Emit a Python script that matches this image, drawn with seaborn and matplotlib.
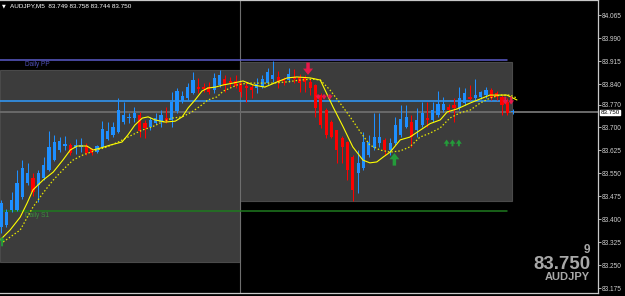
import matplotlib
matplotlib.use("Agg")
import matplotlib.pyplot as plt
import seaborn as sns
import pandas as pd
from matplotlib.patches import Rectangle
from matplotlib.transforms import blended_transform_factory

# ---------------- data ----------------
opens = [83.375, 83.381, 83.430, 83.430, 83.473, 83.518, 83.535, 83.512, 83.535, 83.561,
         83.593, 83.626, 83.639, 83.642, 83.632, 83.636, 83.639, 83.629, 83.619, 83.636,
         83.662, 83.675, 83.685, 83.717, 83.730, 83.730, 83.740, 83.714, 83.701, 83.714,
         83.717, 83.730, 83.724, 83.753, 83.786, 83.795, 83.812, 83.831, 83.831, 83.831,
         83.822, 83.838, 83.857, 83.851, 83.851, 83.844, 83.835, 83.831, 83.828, 83.831,
         83.844, 83.857, 83.864, 83.857, 83.854, 83.864, 83.864, 83.861, 83.848, 83.838,
         83.805, 83.756, 83.717, 83.691, 83.665, 83.652, 83.603, 83.551, 83.567, 83.610,
         83.632, 83.649, 83.659, 83.626, 83.649, 83.675, 83.701, 83.717, 83.691, 83.707,
         83.730, 83.724, 83.740, 83.756, 83.766, 83.773, 83.763, 83.779, 83.799, 83.795,
         83.799, 83.805, 83.822, 83.812, 83.799, 83.782, 83.749]
highs = [83.463, 83.434, 83.489, 83.561, 83.593, 83.584, 83.551, 83.561, 83.603, 83.688,
         83.675, 83.668, 83.672, 83.649, 83.662, 83.665, 83.649, 83.632, 83.642, 83.720,
         83.717, 83.717, 83.795, 83.782, 83.747, 83.766, 83.750, 83.724, 83.734, 83.747,
         83.756, 83.766, 83.815, 83.828, 83.818, 83.844, 83.880, 83.861, 83.844, 83.848,
         83.877, 83.887, 83.870, 83.864, 83.870, 83.848, 83.848, 83.841, 83.861, 83.870,
         83.893, 83.916, 83.883, 83.864, 83.893, 83.890, 83.874, 83.870, 83.861, 83.841,
         83.812, 83.763, 83.724, 83.691, 83.672, 83.655, 83.610, 83.626, 83.685, 83.675,
         83.747, 83.747, 83.665, 83.665, 83.734, 83.773, 83.773, 83.740, 83.763, 83.782,
         83.782, 83.782, 83.818, 83.799, 83.776, 83.795, 83.831, 83.828, 83.838, 83.857,
         83.818, 83.831, 83.828, 83.818, 83.805, 83.795, 83.758]
lows = [83.355, 83.375, 83.424, 83.427, 83.466, 83.512, 83.476, 83.456, 83.528, 83.557,
        83.590, 83.619, 83.626, 83.610, 83.613, 83.619, 83.610, 83.610, 83.616, 83.632,
        83.659, 83.668, 83.681, 83.711, 83.714, 83.717, 83.668, 83.665, 83.691, 83.711,
        83.701, 83.714, 83.701, 83.747, 83.779, 83.789, 83.809, 83.812, 83.815, 83.809,
        83.812, 83.831, 83.815, 83.831, 83.828, 83.799, 83.782, 83.795, 83.812, 83.828,
        83.838, 83.848, 83.828, 83.838, 83.848, 83.844, 83.815, 83.815, 83.805, 83.734,
        83.698, 83.665, 83.665, 83.584, 83.584, 83.528, 83.460, 83.486, 83.561, 83.603,
        83.626, 83.636, 83.610, 83.610, 83.642, 83.668, 83.698, 83.636, 83.668, 83.701,
        83.701, 83.717, 83.734, 83.750, 83.747, 83.717, 83.756, 83.773, 83.789, 83.789,
        83.792, 83.795, 83.789, 83.789, 83.740, 83.740, 83.744]
closes = [83.453, 83.424, 83.463, 83.518, 83.567, 83.551, 83.489, 83.551, 83.577, 83.636,
          83.652, 83.655, 83.646, 83.616, 83.642, 83.642, 83.616, 83.616, 83.639, 83.694,
          83.688, 83.701, 83.756, 83.740, 83.734, 83.747, 83.688, 83.698, 83.724, 83.730,
          83.740, 83.720, 83.782, 83.818, 83.802, 83.831, 83.854, 83.825, 83.825, 83.815,
          83.861, 83.870, 83.838, 83.844, 83.835, 83.815, 83.828, 83.822, 83.841, 83.857,
          83.880, 83.870, 83.848, 83.851, 83.874, 83.857, 83.844, 83.848, 83.828, 83.763,
          83.707, 83.675, 83.668, 83.626, 83.636, 83.561, 83.496, 83.584, 83.652, 83.652,
          83.668, 83.668, 83.626, 83.649, 83.707, 83.727, 83.734, 83.668, 83.724, 83.747,
          83.724, 83.756, 83.776, 83.776, 83.756, 83.763, 83.795, 83.812, 83.792, 83.805,
          83.815, 83.822, 83.795, 83.799, 83.773, 83.747, 83.750]

fast_idx = [-0.2, 1.7, 3.6, 4.9, 6.0, 7.9, 9.8, 11.6, 13.0, 14.3, 16.1, 17.3, 18.6, 20.5,
            22.7, 23.8, 25.1, 26.5, 27.6, 28.9, 30.8, 32.7, 34.0, 35.1, 36.4, 37.7, 38.8,
            40.2, 41.7, 43.5, 45.4, 47.3, 49.5, 51.8, 53.7, 55.5, 58.0, 59.9, 62.3, 64.2,
            66.0, 67.9, 69.2, 70.5, 71.7, 73.0, 74.9, 76.7, 80.5, 82.4, 83.7, 85.6, 88.0,
            91.7, 94.9, 96.8]
fast_val = [83.332, 83.365, 83.407, 83.453, 83.496, 83.528, 83.554, 83.593, 83.626, 83.639,
            83.639, 83.626, 83.632, 83.642, 83.652, 83.675, 83.707, 83.730, 83.734, 83.724,
            83.717, 83.720, 83.734, 83.763, 83.789, 83.818, 83.828, 83.831, 83.838, 83.844,
            83.851, 83.838, 83.831, 83.848, 83.861, 83.864, 83.861, 83.854, 83.766, 83.701,
            83.636, 83.593, 83.584, 83.587, 83.603, 83.619, 83.659, 83.668, 83.712, 83.724,
            83.750, 83.760, 83.779, 83.805, 83.805, 83.789]
slow_idx = [0.4, 3.6, 6.0, 7.9, 9.8, 11.6, 13.5, 15.4, 18.0, 19.9, 22.0, 24.6, 26.5, 28.3,
            30.2, 32.1, 34.0, 35.8, 37.7, 38.8, 40.5, 41.7, 43.0, 44.3, 46.2, 48.6, 51.0,
            53.7, 56.1, 58.5, 59.9, 61.7, 63.6, 65.5, 67.4, 69.2, 71.1, 73.0, 74.9, 76.7,
            78.6, 80.5, 82.4, 84.2, 86.1, 88.0, 89.9, 91.7, 93.6, 95.5, 96.8]
slow_val = [83.326, 83.365, 83.440, 83.486, 83.528, 83.561, 83.593, 83.610, 83.626, 83.636,
            83.652, 83.675, 83.691, 83.701, 83.717, 83.730, 83.734, 83.750, 83.773, 83.789,
            83.799, 83.818, 83.828, 83.838, 83.844, 83.844, 83.844, 83.848, 83.854, 83.857,
            83.854, 83.822, 83.779, 83.734, 83.685, 83.642, 83.626, 83.619, 83.623, 83.636,
            83.668, 83.681, 83.698, 83.730, 83.747, 83.756, 83.779, 83.795, 83.805, 83.805,
            83.795]

pivot_pp = 83.919
pivot_s1 = 83.427
blue_level = 83.786
last_price = 83.750
level_end = 94.9
day_split = 44.84

box_start = [-0.19, 44.84]
box_end = [44.84, 95.9]
box_high = [83.887, 83.913]
box_low = [83.261, 83.460]

ytick_vals = [84.065, 83.990, 83.915, 83.840, 83.773, 83.700, 83.625, 83.550,
              83.475, 83.400, 83.325, 83.250, 83.175]
ytick_labels = ["84.065", "83.990", "83.915", "83.840", "83.770", "83.700", "83.625",
                "83.550", "83.475", "83.400", "83.325", "83.250", "83.175"]

# signal arrows: (index, tip price, tail price)
big_down_idx = [57.6]; big_down_tip = [83.871]; big_down_tail = [83.911]
big_up_idx = [73.8]; big_up_tip = [83.616]; big_up_tail = [83.575]
small_up_idx = [0.2, 83.6, 84.7, 85.9]
small_up_tip = [83.343, 83.660, 83.660, 83.660]
small_up_tail = [83.312, 83.638, 83.638, 83.638]
small_down_idx = [59.5, 60.6, 61.7, 94.6, 95.7]
small_down_tip = [83.790, 83.790, 83.790, 83.774, 83.774]
small_down_tail = [83.807, 83.807, 83.807, 83.800, 83.800]

symbol = "AUDJPY"
header = "AUDJPY,M5  83.749 83.758 83.744 83.750"
tick_count = "9"

# ---------------- style ----------------
sns.set_theme(style="ticks", rc={"axes.facecolor": "black", "figure.facecolor": "black"})
plt.rcParams["font.family"] = ["Liberation Sans", "DejaVu Sans"]

W, H = 625, 296
fig = plt.figure(figsize=(W / 100, H / 100), dpi=100)
ax = fig.add_axes([0, 3 / H, 598 / W, 293 / H])
ax.set_facecolor("black")

# day boxes
for s, e, hi, lo in zip(box_start, box_end, box_high, box_low):
    ax.add_patch(Rectangle((s, lo), e - s, hi - lo, facecolor="#3c3c3c",
                           edgecolor="#4a4a4a", lw=0.8, zorder=1))

# day separator
ax.axvline(day_split, color="#6e6e6e", lw=0.8, zorder=1.5)

# levels
ax.plot([-0.19, level_end], [pivot_pp, pivot_pp], color="#5b5bc8", lw=1.1, zorder=2)
ax.plot([-0.19, level_end], [pivot_s1, pivot_s1], color="#1f7a1f", lw=1.1, zorder=2)
ax.plot([-0.19, level_end], [blue_level, blue_level], color="#2f9cff", lw=1.1, zorder=2)
ax.axhline(last_price, color="#6a6a6a", lw=1.4, zorder=2)
ax.text(4.5, pivot_pp - 0.004, "Daily PP", color="#5050b8", fontsize=4.7, va="top", ha="left", zorder=3)
ax.text(4.5, pivot_s1 - 0.004, "Daily S1", color="#3c8c3c", fontsize=4.7, va="top", ha="left", zorder=3)

# candles
df = pd.DataFrame({"o": opens, "h": highs, "l": lows, "c": closes})
df["i"] = range(len(df))
df["up"] = df["c"] >= df["o"]
df["col"] = df["up"].map({True: "#1e8fff", False: "#ff0000"})
ax.vlines(df["i"], df["l"], df["h"], colors=df["col"], lw=0.75, zorder=4)
bottoms = df[["o", "c"]].min(axis=1)
heights = (df["c"] - df["o"]).abs().clip(lower=0.0028)
ax.bar(df["i"], heights, bottom=bottoms, width=0.6, color=df["col"], lw=0, zorder=5)

# moving averages
sns.lineplot(x=slow_idx, y=slow_val, ax=ax, color="#e8e800", lw=0.9,
             linestyle=(0, (1.2, 1.6)), sort=False, estimator=None, zorder=6)
sns.lineplot(x=fast_idx, y=fast_val, ax=ax, color="#ffff00", lw=0.8,
             sort=False, estimator=None, zorder=6)

# signal arrows
def arrow(x, tip, tail, color, hw, hl, tw):
    ax.annotate("", xy=(x, tip), xytext=(x, tail),
                arrowprops=dict(arrowstyle=f"simple,head_width={hw},head_length={hl},tail_width={tw}",
                                color=color, shrinkA=0, shrinkB=0, mutation_scale=10, lw=0),
                zorder=7)

for x, t, b in zip(big_down_idx, big_down_tip, big_down_tail):
    arrow(x, t, b, "#e8174a", 0.72, 0.45, 0.25)
for x, t, b in zip(big_up_idx, big_up_tip, big_up_tail):
    arrow(x, t, b, "#249b3a", 0.72, 0.45, 0.25)
for x, t, b in zip(small_up_idx, small_up_tip, small_up_tail):
    arrow(x, t, b, "#249b3a", 0.42, 0.3, 0.14)
for x, t, b in zip(small_down_idx, small_down_tip, small_down_tail):
    arrow(x, t, b, "#e8174a", 0.42, 0.3, 0.14)

# axes
ax.set_xlim(-0.19, 112.0)
ax.set_ylim(83.1597, 84.115)
ax.set_xticks([])
ax.yaxis.tick_right()
ax.set_yticks(ytick_vals)
ax.set_yticklabels(ytick_labels)
ax.tick_params(axis="y", colors="#d0d0d0", labelcolor="#d0d0d0", labelsize=4.7,
               length=2, width=0.6, direction="out", pad=1)
ax.spines["left"].set_visible(False)
for side in ["right", "top", "bottom"]:
    ax.spines[side].set_color("#c8c8c8")
    ax.spines[side].set_linewidth(0.9)
ax.set_xlabel(""); ax.set_ylabel("")

# current price tag
tr = blended_transform_factory(ax.transAxes, ax.transData)
ax.text(1.004, last_price - 0.002, f"{last_price:.3f}", transform=tr, ha="left", va="center",
        fontsize=4.5, color="black", zorder=10, clip_on=False,
        bbox=dict(boxstyle="square,pad=0.06", facecolor="white", edgecolor="white"))

# header
fig.text(2 / W, 1 - 6 / H, "▼", color="white", fontsize=3.5, va="center", ha="left",
         family=["DejaVu Sans"])
fig.text(10 / W, 1 - 5.5 / H, header, color="white", fontsize=4.6, va="center", ha="left")

# big corner text
fig.text(590 / W, 1 - 253 / H, tick_count, color="#a8a8a8", fontsize=8.5,
         fontweight="bold", ha="right", va="baseline")
fig.text(590 / W, 1 - 269 / H, f"{last_price:.3f}", color="#a8a8a8", fontsize=13.4,
         fontweight="bold", ha="right", va="baseline")
fig.text(590 / W, 1 - 280 / H, symbol, color="#a8a8a8", fontsize=8,
         fontweight="bold", ha="right", va="baseline")

fig.savefig("out.png", dpi=100, facecolor="black")
